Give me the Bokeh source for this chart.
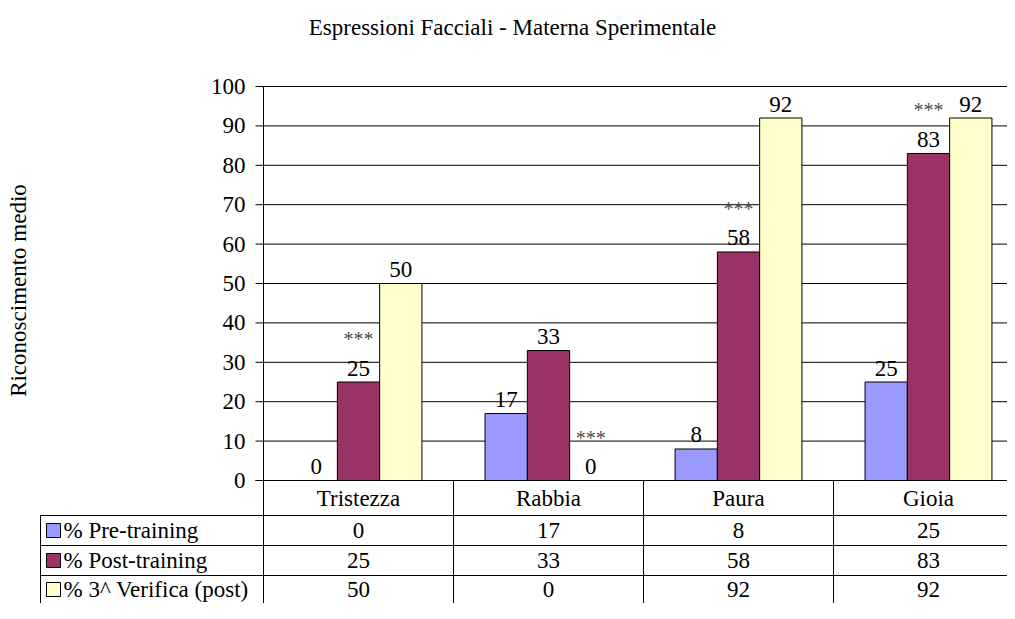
import math
from bokeh.plotting import figure
from bokeh.models import Range1d
from bokeh.core.properties import value
from bokeh.embed import file_html
from bokeh.resources import INLINE

# ---------------- data ----------------
categories = ["Tristezza", "Rabbia", "Paura", "Gioia"]
series_names = ["% Pre-training", "% Post-training", "% 3^ Verifica (post)"]
pre_training = [0, 17, 8, 25]
post_training = [25, 33, 58, 83]
verifica_3 = [50, 0, 92, 92]
series_colors = ["#9999FF", "#993366", "#FFFFCC"]
y_ticks = [0, 10, 20, 30, 40, 50, 60, 70, 80, 90, 100]
# significance markers: (category, series index)
significance = [("Tristezza", 1), ("Rabbia", 2), ("Paura", 1), ("Gioia", 1)]
title_text = "Espressioni Facciali - Materna Sperimentale"
y_label_text = "Riconoscimento medio"

series_values = [pre_training, post_training, verifica_3]

# ---------------- layout (pixels) ----------------
W, H = 1007, 603
PLOT_LEFT = 263      # x pixel of value axis
CAT_W = 190          # pixel width of one category
Y0 = 480             # pixel of value 0
Y100 = 86            # pixel of value 100
PPU = (Y0 - Y100) / 100.0
BAR_PX = 42.3

FONT = value("Liberation Serif")
FS = "23px"


def dx(px):
    return (px - PLOT_LEFT) / CAT_W


def dy(py):
    return (Y0 - py) / PPU


x_end = dx(W)
y_bottom = dy(H)

p = figure(width=W, height=H,
           x_range=Range1d(dx(0), x_end), y_range=Range1d(y_bottom, dy(0)),
           output_backend="svg", toolbar_location=None, min_border=0,
           x_axis_location=None, y_axis_location=None, title=None)
p.outline_line_color = None
p.grid.grid_line_color = None
p.background_fill_color = "white"
p.border_fill_color = "white"

# gridlines
grid_vals = [t for t in y_ticks if t > 0]
p.segment(x0=[0] * len(grid_vals), y0=grid_vals, x1=[x_end] * len(grid_vals), y1=grid_vals,
          line_color="black", line_width=1)

# bars
bw = BAR_PX / CAT_W
for s, (vals, col) in enumerate(zip(series_values, series_colors)):
    xs = [i + 0.5 + (s - 1) * bw for i in range(len(categories))]
    p.vbar(x=xs, top=vals, bottom=0, width=bw, fill_color=col, line_color="black", line_width=1)
    p.text(x=xs, y=[v + 14 / PPU for v in vals], text=[str(v) for v in vals],
           text_font=FONT, text_font_size=FS, text_align="center", text_baseline="alphabetic",
           text_color="black")

# significance stars
sx, sy = [], []
for cat, s in significance:
    i = categories.index(cat)
    sx.append(i + 0.5 + (s - 1) * bw)
    sy.append(series_values[s][i] + 43 / PPU)
p.text(x=sx, y=sy, text=["***"] * len(sx), text_font=FONT, text_font_size="20px",
       text_align="center", text_baseline="alphabetic", text_color="#4d4d4d")

# value axis: line, ticks, labels
p.segment(x0=[0], y0=[100], x1=[0], y1=[y_bottom], line_color="black", line_width=1)
p.segment(x0=[dx(255)], y0=[0], x1=[x_end], y1=[0], line_color="black", line_width=1)
p.segment(x0=[dx(255)] * len(y_ticks), y0=y_ticks, x1=[0] * len(y_ticks), y1=y_ticks,
          line_color="black", line_width=1)
p.text(x=[dx(245)] * len(y_ticks), y=y_ticks, text=[str(t) for t in y_ticks],
       text_font=FONT, text_font_size=FS, text_align="right", text_baseline="middle")

# data table
row_lines = [515, 545, 575]
row_centers = [530, 560, 589]
p.segment(x0=[dx(40)] * 3, y0=[dy(r) for r in row_lines], x1=[x_end] * 3,
          y1=[dy(r) for r in row_lines], line_color="black", line_width=1)
p.segment(x0=[dx(40)], y0=[dy(row_lines[0])], x1=[dx(40)], y1=[y_bottom],
          line_color="black", line_width=1)
p.segment(x0=[1, 2, 3], y0=[0] * 3, x1=[1, 2, 3], y1=[y_bottom] * 3,
          line_color="black", line_width=1)
p.text(x=[i + 0.5 for i in range(len(categories))], y=[dy(498)] * len(categories), text=categories,
       text_font=FONT, text_font_size=FS, text_align="center", text_baseline="middle")
for r, (name, vals, col) in enumerate(zip(series_names, series_values, series_colors)):
    yc = dy(row_centers[r])
    p.scatter(x=[dx(53)], y=[yc], marker="square", size=14, fill_color=col, line_color="black")
    p.text(x=[dx(63)], y=[yc], text=[name], text_font=FONT, text_font_size=FS,
           text_align="left", text_baseline="middle")
    p.text(x=[i + 0.5 for i in range(len(categories))], y=[yc] * len(categories),
           text=[str(v) for v in vals], text_font=FONT, text_font_size=FS,
           text_align="center", text_baseline="middle")

# title and axis title
p.text(x=[dx(512)], y=[dy(27)], text=[title_text], text_font=FONT, text_font_size=FS,
       text_align="center", text_baseline="middle")
p.text(x=[dx(18)], y=[dy(290)], text=[y_label_text], text_font=FONT, text_font_size=FS,
       text_align="center", text_baseline="middle", angle=math.pi / 2)

open("out.html", "w").write(file_html(p, INLINE))
